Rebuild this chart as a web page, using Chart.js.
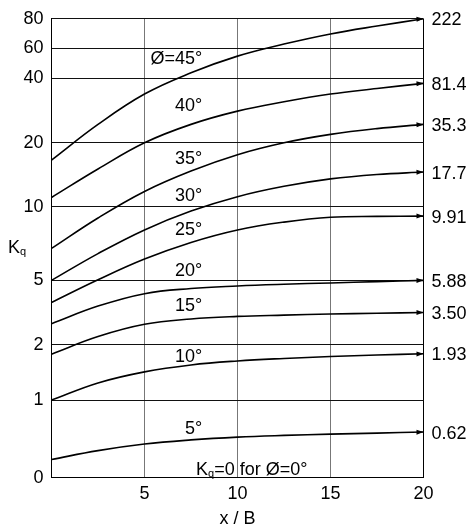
<!DOCTYPE html>
<html>
<head>
<meta charset="utf-8">
<script src="https://cdn.jsdelivr.net/npm/chart.js@4"></script>
<style>
  html, body { margin: 0; padding: 0; background: #fff; }
</style>
</head>
<body>
<canvas id="chart" width="472" height="532"></canvas>
<script>
// x / B positions where each curve was read
const xValues = [0, 2.5, 5, 7.5, 10, 12.5, 15, 17.5, 20];

// Kq for each friction angle
const phi45 = [17.3, 25.7, 35.1, 43.6, 54.7, 62.8, 69.7, 75.1, 80];
const phi40 = [11.46, 15.9, 20, 25.7, 29.8, 32.7, 35.1, 36.8, 38.4];
const phi35 = [7.17, 9.24, 12.4, 15.59, 18.14, 20.0, 22.6, 24.4, 25.7];
const phi30 = [5, 6.82, 8.43, 9.71, 11.58, 13.2, 14.36, 15.05, 15.43];
const phi25 = [3.97, 5.04, 6.45, 7.58, 8.43, 8.96, 9.29, 9.35, 9.37];
const phi20 = [2.98, 3.8, 4.38, 4.62, 4.74, 4.82, 4.88, 4.94, 5.0];
const phi15 = [1.83, 2.38, 2.95, 3.2, 3.32, 3.38, 3.43, 3.47, 3.5];
const phi10 = [1, 1.31, 1.51, 1.635, 1.707, 1.752, 1.786, 1.814, 1.836];
const phi5 = [0.235, 0.349, 0.434, 0.487, 0.523, 0.545, 0.561, 0.575, 0.588];

const curveLabels = ['Ø=45°', '40°', '35°', '30°', '25°', '20°', '15°', '10°', '5°'];
const limitLabels = ['222', '81.4', '35.3', '17.7', '9.91', '5.88', '3.50', '1.93', '0.62'];

const yTicks = [0, 1, 2, 5, 10, 20, 40, 60, 80];
const xTicks = [0, 5, 10, 15, 20];

// where the angle labels sit (x / B, Kq)
const labelX = 8.1;
const labelY = [53.9, 31.7, 17.7, 11.85, 8.5, 5.76, 3.86, 1.81, 0.646];

// the Kq axis is stretched by hand: fraction of the height at each tick
const axisStops = [0, 0.1691, 0.2898, 0.43, 0.5903, 0.7298, 0.8706, 0.936, 1];

function toFrac (v) {
  for (let i = 1; i < yTicks.length; i++) {
    if (v <= yTicks[i] || i === yTicks.length - 1) {
      const t = (v - yTicks[i - 1]) / (yTicks[i] - yTicks[i - 1]);
      return axisStops[i - 1] + t * (axisStops[i] - axisStops[i - 1]);
    }
  }
}

function fromFrac (f) {
  for (let i = 1; i < axisStops.length; i++) {
    if (f <= axisStops[i] || i === axisStops.length - 1) {
      const t = (f - axisStops[i - 1]) / (axisStops[i] - axisStops[i - 1]);
      return yTicks[i - 1] + t * (yTicks[i] - yTicks[i - 1]);
    }
  }
}

class KqScale extends Chart.LinearScale {
  buildTicks () {
    return yTicks.map(v => ({ value: v }));
  }
  getPixelForValue (value) {
    return this.getPixelForDecimal(toFrac(value));
  }
  getValueForPixel (pixel) {
    return fromFrac(this.getDecimalForPixel(pixel));
  }
}
KqScale.id = 'kq';
KqScale.defaults = Chart.LinearScale.defaults;
Chart.register(KqScale);

const FONT = 'Arial, "Liberation Sans", sans-serif';
Chart.defaults.font.family = FONT;
Chart.defaults.font.size = 18;
Chart.defaults.color = '#000';

const series = [phi45, phi40, phi35, phi30, phi25, phi20, phi15, phi10, phi5];

// K with a small q hanging below it
function drawKq (ctx, x, y) {
  ctx.font = '18px ' + FONT;
  ctx.textAlign = 'left';
  ctx.fillText('K', x, y);
  const w = ctx.measureText('K').width;
  ctx.font = '11px ' + FONT;
  ctx.fillText('q', x + w, y + 2);
  return w + ctx.measureText('q').width;
}

const annotate = {
  id: 'annotate',
  afterDatasetsDraw (chart) {
    const { ctx, chartArea, scales } = chart;
    ctx.save();
    ctx.fillStyle = '#000';
    ctx.textBaseline = 'alphabetic';

    chart.data.datasets.forEach((ds, i) => {
      const pts = chart.getDatasetMeta(i).data;
      const a = pts[pts.length - 2];
      const b = pts[pts.length - 1];
      const ang = Math.atan2(b.y - a.y, b.x - a.x) * 0.5;
      // arrowhead
      ctx.save();
      ctx.translate(b.x, b.y);
      ctx.rotate(ang);
      ctx.beginPath();
      ctx.moveTo(0, 0);
      ctx.lineTo(-7, -2.5);
      ctx.lineTo(-7, 2.5);
      ctx.closePath();
      ctx.fill();
      ctx.restore();

      // limiting value to the right of the frame
      ctx.font = '18px ' + FONT;
      ctx.textAlign = 'left';
      ctx.fillText(limitLabels[i], chartArea.right + 8, b.y + 6.5);

      // angle label
      ctx.textAlign = 'right';
      ctx.fillText(curveLabels[i], scales.x.getPixelForValue(labelX), scales.y.getPixelForValue(labelY[i]) + 6.5);
    });

    // note for zero friction
    let nx = scales.x.getPixelForValue(7.77);
    const ny = scales.y.getPixelForValue(0.124) + 6.5;
    nx += drawKq(ctx, nx, ny);
    ctx.font = '18px ' + FONT;
    ctx.textAlign = 'left';
    ctx.fillText('=0 for Ø=0°', nx, ny);

    // axis name, written level
    drawKq(ctx, 8, 253);
    ctx.restore();
  }
};

new Chart(document.getElementById('chart'), {
  type: 'line',
  data: {
    datasets: series.map((s, i) => ({
      label: curveLabels[i],
      data: xValues.map((x, j) => ({ x: x, y: s[j] })),
      borderColor: '#000',
      borderWidth: 1.6,
      pointRadius: 0,
      fill: false,
      tension: 0.4
    }))
  },
  options: {
    responsive: false,
    animation: false,
    devicePixelRatio: 1,
    layout: { padding: { top: 14, right: 48.5, left: 0, bottom: 0 } },
    plugins: {
      legend: { display: false },
      tooltip: { enabled: false }
    },
    scales: {
      x: {
        type: 'linear',
        min: 0,
        max: 20,
        afterBuildTicks: s => { s.ticks = xTicks.map(v => ({ value: v })); },
        afterFit: s => { s.height = 54.3; },
        ticks: {
          padding: 6,
          callback: v => (v === 0 ? '' : String(v))
        },
        grid: {
          drawTicks: false,
          color: c => (c.tick && c.tick.value === 20 ? '#000' : '#777'),
          lineWidth: 1
        },
        border: { color: '#000', width: 1 },
        title: { display: true, text: 'x / B', padding: { top: 0, bottom: 2 } }
      },
      y: {
        type: 'kq',
        min: 0,
        max: 80,
        afterFit: s => { s.width = 51.5; },
        ticks: {
          padding: 8,
          autoSkip: false,
          callback: v => String(v)
        },
        grid: { drawTicks: false, color: '#111', lineWidth: 1 },
        border: { color: '#000', width: 1 }
      }
    }
  },
  plugins: [annotate]
});
</script>
</body>
</html>
